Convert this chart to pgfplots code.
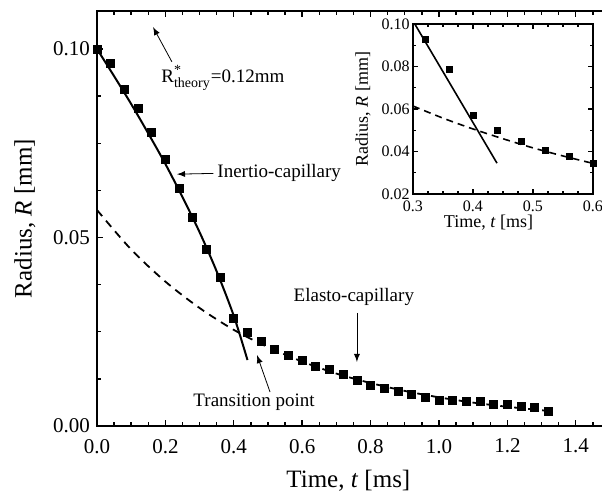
\documentclass[border=0pt]{standalone}
\usepackage{pgfplots}
\pgfplotsset{compat=1.18}
\usepackage{fontspec}
\setmainfont{Liberation Serif}
\begin{document}
\begin{tikzpicture}
\path[use as bounding box] (-48.5pt,-33.5pt) rectangle (252.5pt,213pt);
\begin{axis}[
  at={(0pt,0pt)}, anchor=south west,
  scale only axis, width=256.5pt, height=207.35pt,
  xmin=0, xmax=1.5, ymin=0, ymax=0.11,
  xtick={0,0.2,...,1.4}, ytick={0,0.05,0.1},
  minor xtick={0,0.05,...,1.5}, minor y tick num=3,
  tick align=inside, major tick length=3pt, minor tick length=1.8pt,
  axis line style={line width=0.9pt}, every tick/.style={line width=0.7pt, black},
  tick label style={font=\fontsize{10.5}{12}\selectfont},
  /pgf/number format/assume math mode=true,
  xticklabel style={yshift=-3pt, /pgf/number format/.cd, fixed, fixed zerofill, precision=1},
  yticklabel style={/pgf/number format/.cd, fixed, fixed zerofill, precision=2},
  scaled ticks=false,
  xlabel={Time, \textit{t} [ms]}, ylabel={Radius, \textit{R} [mm]},
  label style={font=\fontsize{12.5}{14}\selectfont},
  xlabel style={at={(axis description cs:0.49,0)}, anchor=center, yshift=-27.5pt},
  ylabel style={at={(axis description cs:0,0.5)}, anchor=center, yshift=36pt},
]
\addplot[only marks, mark=square*, mark size=2pt, black] coordinates {
(0.00,0.1000) (0.04,0.0963) (0.08,0.0894) (0.12,0.0843) (0.16,0.0780)
(0.20,0.0706) (0.24,0.0629) (0.28,0.0554) (0.32,0.0469) (0.36,0.0395)
(0.40,0.0286) (0.44,0.0249) (0.48,0.0225) (0.52,0.0204) (0.56,0.0188)
(0.60,0.0175) (0.64,0.0159) (0.68,0.0149) (0.72,0.0138) (0.76,0.0122)
(0.80,0.0109) (0.84,0.0101) (0.88,0.0093) (0.92,0.0085) (0.96,0.0077)
(1.00,0.0069) (1.04,0.0069) (1.08,0.0066) (1.12,0.0064) (1.16,0.0058)
(1.20,0.0056) (1.24,0.0053) (1.28,0.0050) (1.32,0.0040)
};
\addplot[black, line width=1pt, smooth] coordinates {
(0.00,0.1000) (0.05,0.0928) (0.10,0.0854) (0.15,0.0776) (0.20,0.0695)
(0.25,0.0607) (0.30,0.0514) (0.35,0.0410) (0.40,0.0292) (0.44,0.0175)
};
\addplot[black, line width=0.9pt, dash pattern=on 4pt off 3pt, smooth] coordinates {
(0.0,0.0573) (0.1,0.0468) (0.2,0.0383) (0.3,0.0313) (0.4,0.0255)
(0.5,0.0209) (0.6,0.0171) (0.7,0.0139) (0.8,0.0114) (0.9,0.0093)
(1.0,0.0076) (1.1,0.0062) (1.2,0.0051) (1.32,0.0040)
};
\node[font=\fontsize{9.5}{11}\selectfont] at (axis cs:0.368,0.0923) {R$^{\mbox{\fontsize{7}{8}\selectfont *}}_{\mbox{\fontsize{7}{8}\selectfont theory}}$=0.12mm};
\draw[-latex, thin] (axis cs:0.219,0.0966) -- (axis cs:0.164,0.1058);
\node[font=\fontsize{9.5}{11}\selectfont, anchor=west, inner sep=0pt] at (axis cs:0.351,0.0671) {Inertio-capillary};
\draw[-latex, thin] (axis cs:0.340,0.0670) -- (axis cs:0.234,0.0668);
\node[font=\fontsize{9.5}{11}\selectfont] at (axis cs:0.751,0.0342) {Elasto-capillary};
\draw[-latex, thin] (axis cs:0.760,0.0300) -- (axis cs:0.760,0.0170);
\node[font=\fontsize{9.5}{11}\selectfont, anchor=west, inner sep=0pt] at (axis cs:0.281,0.0064) {Transition point};
\draw[-latex, thin] (axis cs:0.506,0.0090) -- (axis cs:0.468,0.0188);
\end{axis}
\begin{axis}[
  at={(158pt,116pt)}, anchor=south west,
  scale only axis, width=90pt, height=85pt,
  axis background/.style={fill=white},
  xmin=0.3, xmax=0.6, ymin=0.02, ymax=0.10,
  xtick={0.3,0.4,0.5,0.6}, ytick={0.02,0.04,...,0.10},
  minor x tick num=3, minor y tick num=1,
  tick align=inside, major tick length=2.5pt, minor tick length=1.5pt,
  axis line style={line width=0.7pt}, every tick/.style={line width=0.6pt, black},
  tick label style={font=\fontsize{8}{9}\selectfont},
  xticklabel style={inner sep=1.5pt, yshift=-1.5pt},
  yticklabel style={inner sep=1.5pt},
  /pgf/number format/assume math mode=true,
  xticklabel style={/pgf/number format/.cd, fixed, fixed zerofill, precision=1},
  yticklabel style={/pgf/number format/.cd, fixed, fixed zerofill, precision=2},
  scaled ticks=false,
  xlabel={Time, \textit{t} [ms]}, ylabel={Radius, \textit{R} [mm]},
  label style={font=\fontsize{9}{10}\selectfont},
  xlabel style={at={(axis description cs:0.42,0)}, anchor=center, yshift=-14.5pt},
  ylabel style={at={(axis description cs:0,0.5)}, anchor=center, yshift=25pt},
]
\addplot[only marks, mark=square*, mark size=1.5pt, black] coordinates {
(0.32,0.0928) (0.36,0.0788) (0.40,0.0572) (0.44,0.0500)
(0.48,0.0446) (0.52,0.0407) (0.56,0.0376) (0.60,0.0344)
};
\addplot[black, line width=0.8pt] coordinates {(0.303,0.1000) (0.44,0.0345)};
\addplot[black, line width=0.8pt, dash pattern=on 3.5pt off 2.5pt, smooth] coordinates {
(0.30,0.0614) (0.35,0.0557) (0.40,0.0506) (0.45,0.0460) (0.50,0.0417) (0.55,0.0379) (0.60,0.0344)
};
\end{axis}
\end{tikzpicture}
\end{document}
